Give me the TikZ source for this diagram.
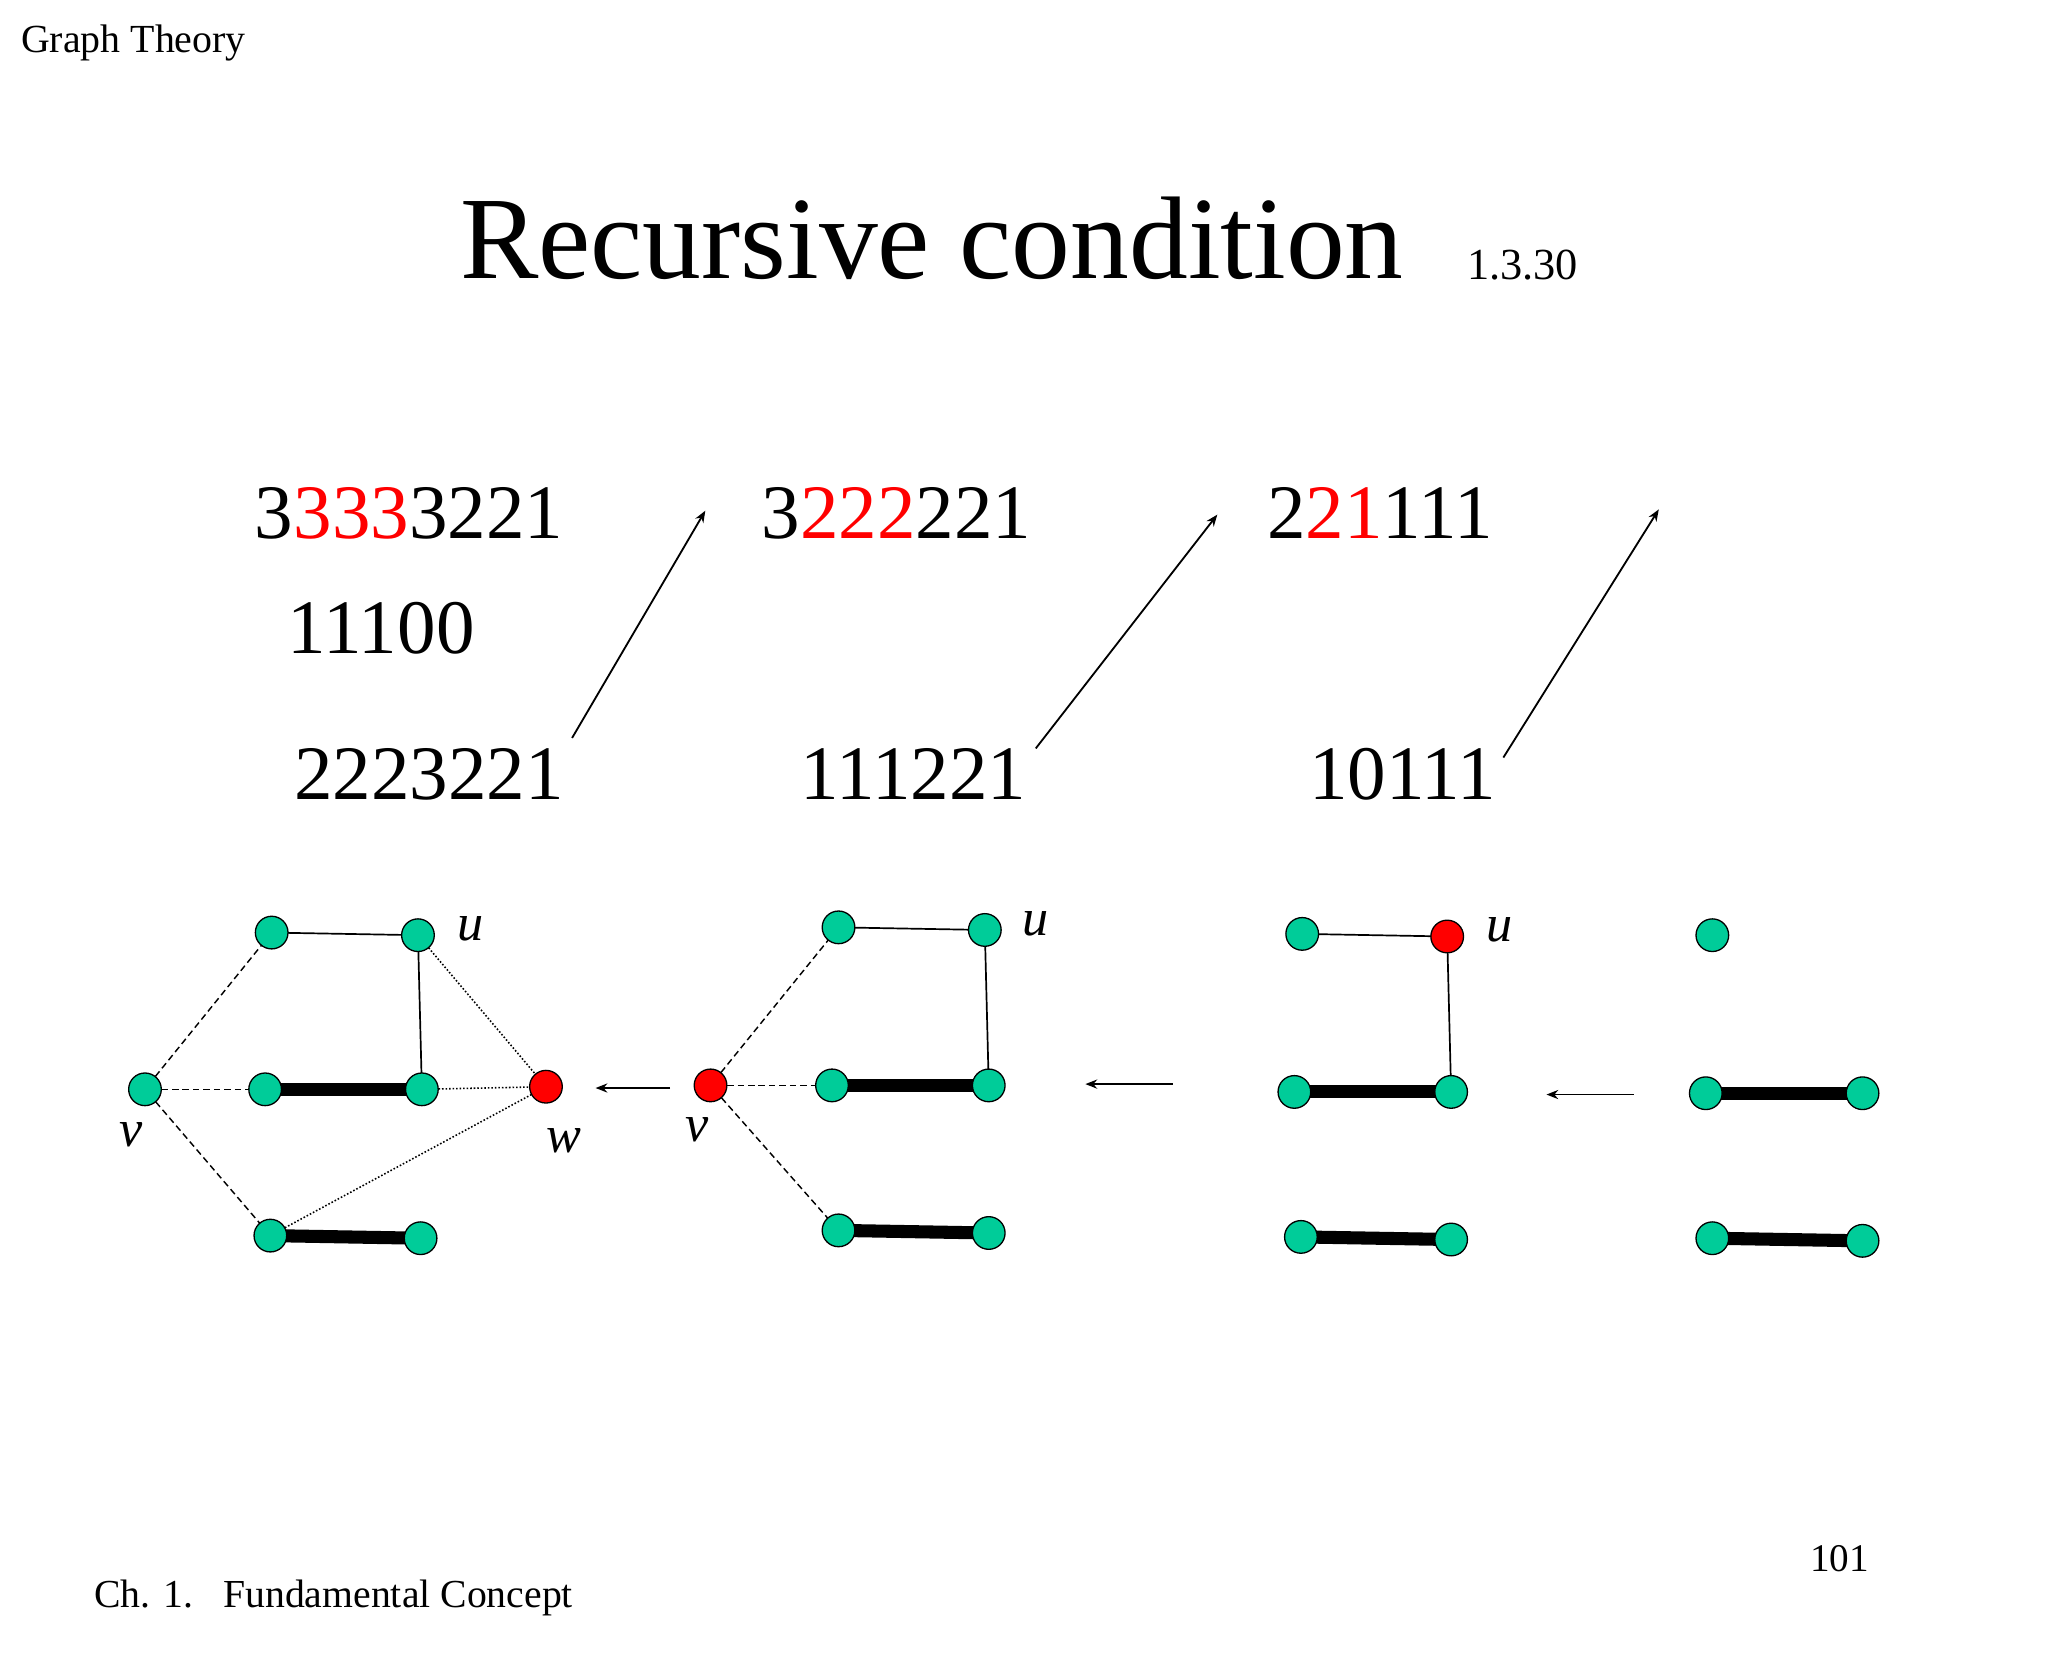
\documentclass[tikz,border=0pt]{standalone}
\usepackage{fontspec}
\setmainfont{Liberation Serif}
\usetikzlibrary{arrows.meta}
\begin{document}
\begin{tikzpicture}[x=1pt,y=-1pt,
  thin/.style={line width=1.3pt},
  heavy/.style={line width=10pt},
  dsh/.style={line width=1.1pt,dash pattern=on 5pt off 3pt},
  dot/.style={line width=1.2pt,dash pattern=on 1.2pt off 1.5pt},
  arr/.style={line width=1.4pt,-{Stealth[length=9pt,width=7pt]}},
  vx/.style={circle,inner sep=0pt,minimum size=25pt},
  txt/.style={anchor=base west,inner sep=0pt},
  lab/.style={anchor=base,inner sep=0pt,font=\fontsize{40}{40}\selectfont\itshape}]
\definecolor{vturq}{RGB}{0,204,153}
\useasboundingbox (0,0) rectangle (1568,1277);
\fill[white] (0,0) rectangle (1568,1277);
% texts
\node[txt,font=\fontsize{30.5}{30.5}\selectfont] (gt) at (16,40) {Graph Theory};
\node[txt,font=\fontsize{90}{90}\selectfont] (title) at (352,213) {Recursive condition};
\node[txt,font=\fontsize{34}{34}\selectfont] (num) at (1123,214) {1.3.30};
\node[anchor=base east,inner sep=0pt,font=\fontsize{30}{30}\selectfont] (pg) at (1431,1203) {101};
\node[txt,font=\fontsize{30.4}{30.4}\selectfont] (ch) at (72,1231) {Ch. 1.\ \ \ Fundamental Concept};
\begin{scope}[every node/.style={txt,font=\fontsize{59}{59}\selectfont}]
\node (s1) at (195,412) {3\textcolor{red}{333}3221};
\node (s2) at (220,500) {11100};
\node (s3) at (225,612) {2223221};
\node (s4) at (583,412) {3\textcolor{red}{222}221};
\node (s5) at (613,612) {111221};
\node (s6) at (970,412) {2\textcolor{red}{21}111};
\node (s7) at (1002,612) {10111};
\end{scope}
\coordinate (d1a) at (438,565); \coordinate (d1b) at (540,391);
\coordinate (d2a) at (793,573); \coordinate (d2b) at (932,394);
\coordinate (d3a) at (1151,580); \coordinate (d3b) at (1270,390);
\draw[arr] (d1a) -- (d1b);
\draw[arr] (d2a) -- (d2b);
\draw[arr] (d3a) -- (d3b);
% graph 1
\node[vx] (a1) at (208,714) {}; \node[vx] (u1) at (320,716) {};
\node[vx] (b1) at (203,834) {}; \node[vx] (c1) at (323,834) {};
\node[vx] (v1) at (111,834) {}; \node[vx] (w1) at (418,832) {};
\node[vx] (d1) at (207,946) {}; \node[vx] (e1) at (322,948) {};
\draw[thin] (a1.center)--(u1.center); \draw[thin] (u1.center)--(c1.center);
\draw[heavy] (b1.center)--(c1.center); \draw[heavy] (d1.center)--(e1.center);
\draw[dsh] (v1)--(a1); \draw[dsh] (v1)--(b1); \draw[dsh] (v1)--(d1);
\draw[dot] (u1)--(w1); \draw[dot] (c1)--(w1); \draw[dot] (d1)--(w1);
\node[lab] (lu1) at (360,720) {u};
\node[lab] (lv1) at (100,878) {v};
\node[lab] (lw1) at (432,882) {w};
\coordinate (h1a) at (513,833); \coordinate (h1b) at (456,833);
\draw[arr] (h1a)--(h1b);
% graph 2
\node[vx] (a2) at (642,710) {}; \node[vx] (u2) at (754,712) {};
\node[vx] (b2) at (637,831) {}; \node[vx] (c2) at (757,831) {};
\node[vx] (v2) at (544,831) {};
\node[vx] (d2) at (642,942) {}; \node[vx] (e2) at (757,944) {};
\draw[thin] (a2.center)--(u2.center); \draw[thin] (u2.center)--(c2.center);
\draw[heavy] (b2.center)--(c2.center); \draw[heavy] (d2.center)--(e2.center);
\draw[dsh] (v2)--(a2); \draw[dsh] (v2)--(b2); \draw[dsh] (v2)--(d2);
\node[lab] (lu2) at (793,716) {u};
\node[lab] (lv2) at (534,874) {v};
\coordinate (h2a) at (898,830); \coordinate (h2b) at (831,830);
\draw[arr] (h2a)--(h2b);
% graph 3
\node[vx] (a3) at (997,715) {}; \node[vx] (u3) at (1108,717) {};
\node[vx] (b3) at (991,836) {}; \node[vx] (c3) at (1111,836) {};
\node[vx] (d3) at (996,947) {}; \node[vx] (e3) at (1111,949) {};
\draw[thin] (a3.center)--(u3.center); \draw[thin] (u3.center)--(c3.center);
\draw[heavy] (b3.center)--(c3.center); \draw[heavy] (d3.center)--(e3.center);
\node[lab] (lu3) at (1148,721) {u};
\coordinate (h3a) at (1251,838); \coordinate (h3b) at (1184,838);
\draw[arr] (h3a)--(h3b);
% graph 4
\node[vx] (a4) at (1311,716) {};
\node[vx] (b4) at (1306,837) {}; \node[vx] (c4) at (1426,837) {};
\node[vx] (d4) at (1311,948) {}; \node[vx] (e4) at (1426,950) {};
\draw[heavy] (b4.center)--(c4.center); \draw[heavy] (d4.center)--(e4.center);
% vertices on top
\foreach \n in {a1,u1,b1,c1,v1,d1,e1,a2,u2,b2,c2,d2,e2,a3,b3,c3,d3,e3,a4,b4,c4,d4,e4}
  \filldraw[fill=vturq,draw=black,line width=1pt] (\n) circle (12.5);
\foreach \n in {w1,v2,u3}
  \filldraw[fill=red,draw=black,line width=1pt] (\n) circle (12.5);
\end{tikzpicture}
\end{document}
